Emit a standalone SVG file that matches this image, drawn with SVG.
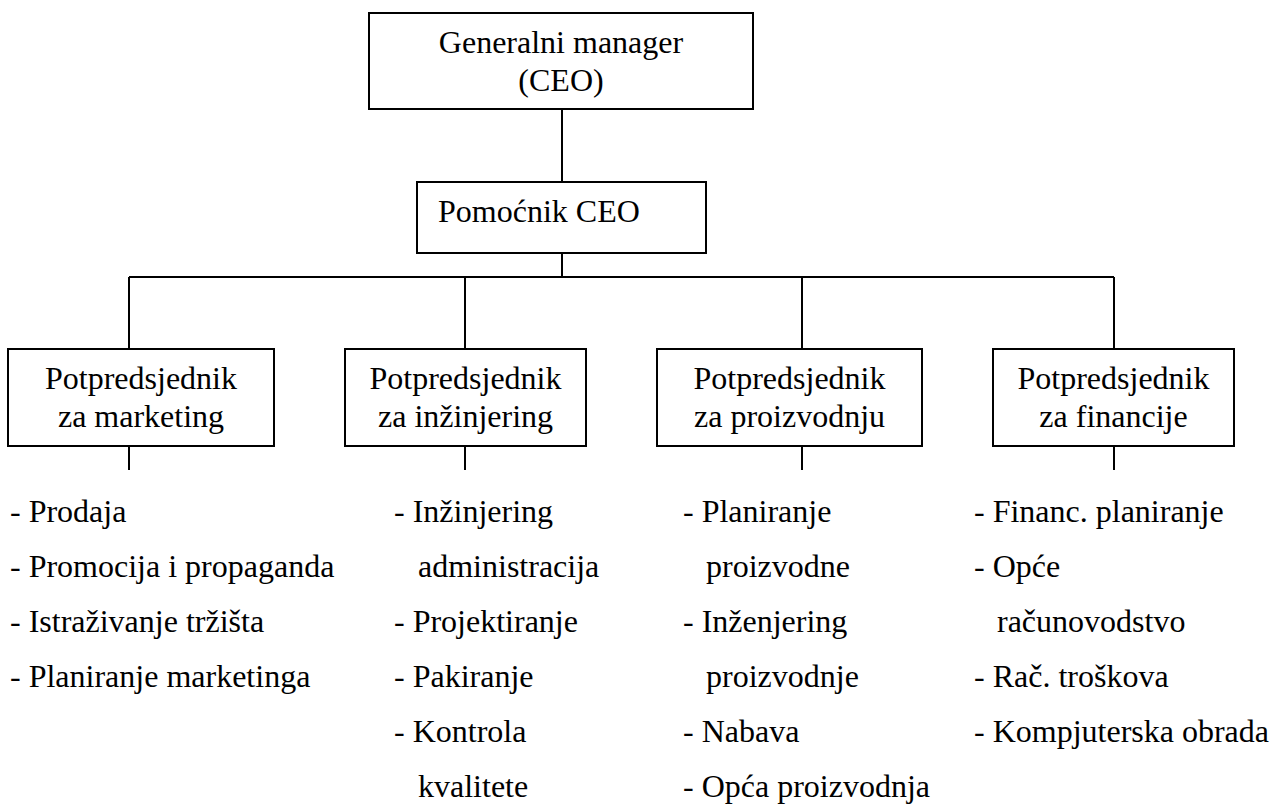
<svg xmlns="http://www.w3.org/2000/svg" width="1274" height="805" viewBox="0 0 1274 805">
  <style>
    .box { fill: #ffffff; stroke: #000000; stroke-width: 2; }
    .conn { fill: none; stroke: #000000; stroke-width: 2; }
    .t { font-family: 'Liberation Serif', 'Tinos', 'DejaVu Serif', 'Times New Roman', serif; font-size: 32px; fill: #000000; }
    .c { text-anchor: middle; }
  </style>
  <rect width="1274" height="805" fill="#ffffff"/>

  <!-- connectors -->
  <g id="connectors" class="conn">
    <line x1="562" y1="109" x2="562" y2="182"/>
    <line x1="562" y1="253" x2="562" y2="277"/>
    <line x1="129" y1="277" x2="1114" y2="277"/>
    <line x1="129" y1="277" x2="129" y2="349"/>
    <line x1="465" y1="277" x2="465" y2="349"/>
    <line x1="802" y1="277" x2="802" y2="349"/>
    <line x1="1114" y1="277" x2="1114" y2="349"/>
    <line x1="129" y1="446" x2="129" y2="470"/>
    <line x1="465" y1="446" x2="465" y2="470"/>
    <line x1="802" y1="446" x2="802" y2="470"/>
    <line x1="1114" y1="446" x2="1114" y2="470"/>
  </g>

  <g class="t" font-family="Liberation Serif, DejaVu Serif, serif">
    <!-- top management -->
    <g id="ceo">
      <rect class="box" x="369" y="13" width="384" height="96"/>
      <text class="c" x="561" y="53">Generalni manager</text>
      <text class="c" x="561" y="91">(CEO)</text>
    </g>

    <g id="assistant">
      <rect class="box" x="417" y="182" width="289" height="71"/>
      <text x="438" y="222">Pomoćnik CEO</text>
    </g>

    <!-- vice presidents -->
    <g id="vp-marketing">
      <rect class="box" x="8" y="349" width="266" height="97"/>
      <text class="c" x="141" y="389">Potpredsjednik</text>
      <text class="c" x="141" y="427">za marketing</text>
    </g>

    <g id="vp-engineering">
      <rect class="box" x="345" y="349" width="241" height="97"/>
      <text class="c" x="465.5" y="389">Potpredsjednik</text>
      <text class="c" x="465.5" y="427">za inžinjering</text>
    </g>

    <g id="vp-production">
      <rect class="box" x="657" y="349" width="265" height="97"/>
      <text class="c" x="789.5" y="389">Potpredsjednik</text>
      <text class="c" x="789.5" y="427">za proizvodnju</text>
    </g>

    <g id="vp-finance">
      <rect class="box" x="993" y="349" width="241" height="97"/>
      <text class="c" x="1113.5" y="389">Potpredsjednik</text>
      <text class="c" x="1113.5" y="427">za financije</text>
    </g>

    <!-- department lists -->
    <g id="list-marketing">
      <text x="10" y="522">- Prodaja</text>
      <text x="10" y="577">- Promocija i propaganda</text>
      <text x="10" y="632">- Istraživanje tržišta</text>
      <text x="10" y="687">- Planiranje marketinga</text>
    </g>

    <g id="list-engineering">
      <text x="394" y="522">- Inžinjering</text>
      <text x="418" y="577">administracija</text>
      <text x="394" y="632">- Projektiranje</text>
      <text x="394" y="687">- Pakiranje</text>
      <text x="394" y="742">- Kontrola</text>
      <text x="418" y="797">kvalitete</text>
    </g>

    <g id="list-production">
      <text x="683" y="522">- Planiranje</text>
      <text x="706" y="577">proizvodne</text>
      <text x="683" y="632">- Inženjering</text>
      <text x="706" y="687">proizvodnje</text>
      <text x="683" y="742">- Nabava</text>
      <text x="683" y="797">- Opća proizvodnja</text>
    </g>

    <g id="list-finance">
      <text x="974" y="522">- Financ. planiranje</text>
      <text x="974" y="577">- Opće</text>
      <text x="997" y="632">računovodstvo</text>
      <text x="974" y="687">- Rač. troškova</text>
      <text x="974" y="742">- Kompjuterska obrada</text>
    </g>
  </g>
</svg>
